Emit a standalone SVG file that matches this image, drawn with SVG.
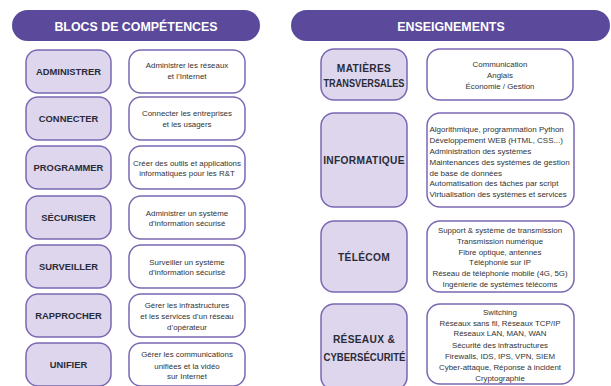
<svg xmlns="http://www.w3.org/2000/svg" width="611" height="386" viewBox="0 0 611 386">
<style>
.hdr{fill:#5b4a9b}
.hdrt{fill:#ffffff;font-family:"Liberation Sans",Arial,sans-serif;font-weight:bold;font-size:12.4px;text-anchor:middle}
.lab{fill:#ddd6ed;stroke:#7a68b3;stroke-width:1.5}
.desc{fill:#ffffff;stroke:#7a68b3;stroke-width:1.5}
.lt{fill:#2b2b38;font-family:"Liberation Sans",Arial,sans-serif;font-weight:bold;font-size:9.4px;text-anchor:middle}
.rt{fill:#2b2b38;font-family:"Liberation Sans",Arial,sans-serif;font-weight:bold;font-size:10.2px;text-anchor:middle;letter-spacing:0.3px}
.rn{fill:#2b2b38;font-family:"Liberation Sans",Arial,sans-serif;font-weight:bold;font-size:10px;text-anchor:middle}
.dt{fill:#333333;font-family:"Liberation Sans",Arial,sans-serif;font-size:7.9px;text-anchor:middle}
.dl{fill:#333333;font-family:"Liberation Sans",Arial,sans-serif;font-size:8px}
</style>
<rect width="611" height="386" fill="#ffffff"/>
<g id="header-blocs"><rect class="hdr" x="12" y="10" width="248" height="31" rx="15.5"/><text class="hdrt" x="136" y="30.5">BLOCS DE COMPÉTENCES</text></g>
<g id="header-enseignements"><rect class="hdr" x="291" y="10" width="319" height="31" rx="15.5"/><text class="hdrt" x="451" y="30.5">ENSEIGNEMENTS</text></g>

<g id="administrer"><rect class="lab" x="26" y="50" width="85" height="43" rx="12"/><text class="lt" x="68.5" y="75">ADMINISTRER</text></g>
<g id="administrer-desc"><rect class="desc" x="129" y="50" width="116" height="43" rx="12"/><text class="dt" x="187" y="68">Administrer les réseaux</text><text class="dt" x="187" y="79">et l’Internet</text></g>

<g id="connecter"><rect class="lab" x="26" y="97" width="85" height="43" rx="12"/><text class="lt" x="68.5" y="122">CONNECTER</text></g>
<g id="connecter-desc"><rect class="desc" x="129" y="97" width="116" height="43" rx="12"/><text class="dt" x="187" y="116">Connecter les entreprises</text><text class="dt" x="187" y="127">et les usagers</text></g>

<g id="programmer"><rect class="lab" x="26" y="146" width="85" height="43" rx="12"/><text class="lt" x="68.5" y="171">PROGRAMMER</text></g>
<g id="programmer-desc"><rect class="desc" x="129" y="146" width="116" height="43" rx="12"/><text class="dt" x="187" y="165.5">Créer des outils et applications</text><text class="dt" x="187" y="176">informatiques pour les R&amp;T</text></g>

<g id="securiser"><rect class="lab" x="26" y="196" width="85" height="43" rx="12"/><text class="lt" x="68.5" y="221">SÉCURISER</text></g>
<g id="securiser-desc"><rect class="desc" x="129" y="196" width="116" height="43" rx="12"/><text class="dt" x="187" y="215.5">Administrer un système</text><text class="dt" x="187" y="226">d’information sécurisé</text></g>

<g id="surveiller"><rect class="lab" x="26" y="245" width="85" height="43" rx="12"/><text class="lt" x="68.5" y="270">SURVEILLER</text></g>
<g id="surveiller-desc"><rect class="desc" x="129" y="245" width="116" height="43" rx="12"/><text class="dt" x="187" y="264.5">Surveiller un système</text><text class="dt" x="187" y="275">d’information sécurisé</text></g>

<g id="rapprocher"><rect class="lab" x="26" y="294" width="85" height="43" rx="12"/><text class="lt" x="68.5" y="319">RAPPROCHER</text></g>
<g id="rapprocher-desc"><rect class="desc" x="129" y="294" width="116" height="43" rx="12"/><text class="dt" x="187" y="308">Gérer les infrastructures</text><text class="dt" x="187" y="319">et les services d’un réseau</text><text class="dt" x="187" y="330">d’opérateur</text></g>

<g id="unifier"><rect class="lab" x="26" y="343" width="85" height="43" rx="12"/><text class="lt" x="68.5" y="368">UNIFIER</text></g>
<g id="unifier-desc"><rect class="desc" x="129" y="343" width="116" height="43" rx="12"/><text class="dt" x="187" y="357">Gérer les communications</text><text class="dt" x="187" y="368.5">unifiées et la vidéo</text><text class="dt" x="187" y="379">sur Internet</text></g>

<g id="matieres"><rect class="lab" x="321" y="49" width="86" height="51" rx="13"/><text class="rt" x="364" y="72">MATIÈRES</text><text class="rn" x="364" y="87" textLength="81" lengthAdjust="spacingAndGlyphs">TRANSVERSALES</text></g>
<g id="matieres-desc"><rect class="desc" x="427" y="49" width="146" height="51" rx="13"/><text class="dt" x="500" y="67">Communication</text><text class="dt" x="500" y="78">Anglais</text><text class="dt" x="500" y="89">Économie / Gestion</text></g>

<g id="informatique"><rect class="lab" x="321" y="113" width="86" height="94" rx="13"/><text class="rt" x="364" y="164">INFORMATIQUE</text></g>
<g id="informatique-desc"><rect class="desc" x="427" y="113" width="147" height="94" rx="13"/>
<text class="dl" x="429.5" y="132">Algorithmique, programmation Python</text>
<text class="dl" x="429.5" y="143">Développement WEB (HTML, CSS...)</text>
<text class="dl" x="429.5" y="154">Administration des systèmes</text>
<text class="dl" x="429.5" y="165">Maintenances des systèmes de gestion</text>
<text class="dl" x="429.5" y="175.5">de base de données</text>
<text class="dl" x="429.5" y="186">Automatisation des tâches par script</text>
<text class="dl" x="429.5" y="196.5">Virtualisation des systèmes et services</text></g>

<g id="telecom"><rect class="lab" x="321" y="221" width="86" height="71" rx="13"/><text class="rt" x="364" y="261">TÉLÉCOM</text></g>
<g id="telecom-desc"><rect class="desc" x="427" y="221" width="147" height="71" rx="13"/>
<text class="dt" x="500" y="233">Support &amp; système de transmission</text>
<text class="dt" x="500" y="244">Transmission numérique</text>
<text class="dt" x="500" y="254.5">Fibre optique, antennes</text>
<text class="dt" x="500" y="265">Téléphonie sur IP</text>
<text class="dt" x="500" y="276">Réseau de téléphonie mobile (4G, 5G)</text>
<text class="dt" x="500" y="286.5">Ingénierie de systèmes télécoms</text></g>

<g id="reseaux"><rect class="lab" x="321" y="304" width="86" height="86" rx="13"/><text class="rt" x="364" y="342.5">RÉSEAUX &amp;</text><text class="rn" x="364.5" y="361" textLength="82" lengthAdjust="spacingAndGlyphs">CYBERSÉCURITÉ</text></g>
<g id="reseaux-desc"><rect class="desc" x="427" y="304" width="147" height="80" rx="13"/>
<text class="dt" x="500" y="314.5">Switching</text>
<text class="dt" x="500" y="325.5">Réseaux sans fil, Réseaux TCP/IP</text>
<text class="dt" x="500" y="336">Réseaux LAN, MAN, WAN</text>
<text class="dt" x="500" y="347.5">Sécurité des infrastructures</text>
<text class="dt" x="500" y="358.5">Firewalls, IDS, IPS, VPN, SIEM</text>
<text class="dt" x="500" y="369.5">Cyber-attaque, Réponse à incident</text>
<text class="dt" x="500" y="380.5">Cryptographie</text></g>
</svg>
